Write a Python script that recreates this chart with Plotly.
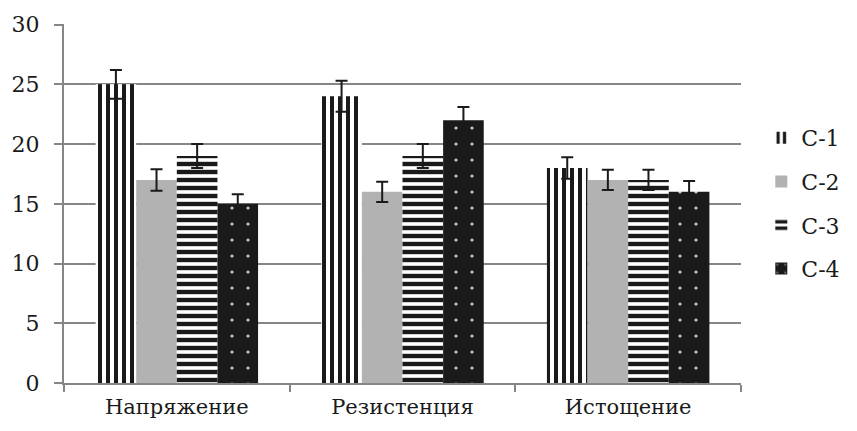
import plotly.graph_objects as go

categories = ["Напряжение", "Резистенция", "Истощение"]
series_names = ["C-1", "C-2", "C-3", "C-4"]
values = {
    "C-1": [25, 24, 18],
    "C-2": [17, 16, 17],
    "C-3": [19, 19, 17],
    "C-4": [15, 22, 16],
}
errors = {
    "C-1": [1.2, 1.3, 0.9],
    "C-2": [0.9, 0.85, 0.85],
    "C-3": [1.0, 1.0, 0.85],
    "C-4": [0.8, 1.1, 0.9],
}
y_ticks = [0, 5, 10, 15, 20, 25, 30]

styles = {
    "C-1": dict(color="white", pattern=dict(shape="|", fgcolor="#1a1a1a", bgcolor="white", size=8, solidity=0.5, fillmode="replace")),
    "C-2": dict(color="#b2b2b2"),
    "C-3": dict(color="white", pattern=dict(shape="-", fgcolor="#1a1a1a", bgcolor="white", size=8, solidity=0.55, fillmode="replace")),
    "C-4": dict(color="#1a1a1a", pattern=dict(shape=".", fgcolor="#d0d0d0", bgcolor="#1a1a1a", size=16, solidity=0.03, fillmode="replace")),
}

fig = go.Figure()
for i, name in enumerate(series_names):
    fig.add_trace(go.Bar(
        x=categories, y=values[name], name=name,
        marker=dict(line=dict(width=0), **styles[name]),
        error_y=dict(type="data", array=errors[name], color="#1a1a1a", thickness=2, width=6),
        legendgroup=name,
    ))

serif = "DejaVu Serif"
fig.update_layout(
    width=857, height=431,
    margin=dict(l=58, r=103, t=20, b=45),
    paper_bgcolor="white", plot_bgcolor="white",
    barmode="group", bargap=0.28, bargroupgap=0,
    font=dict(family=serif, size=21, color="#1a1a1a"),
    showlegend=True,
    legend=dict(x=1.03, y=0.5, xanchor="left", yanchor="middle", tracegroupgap=12,
                font=dict(family=serif, size=22, color="#1a1a1a"),
                itemwidth=30),
    xaxis=dict(showline=True, linecolor="#868686", linewidth=2, ticks="outside", tickson="boundaries",
               ticklen=7, tickcolor="#868686", tickwidth=1.5, showgrid=False,
               tickfont=dict(family=serif, size=21), ticklabelstandoff=4),
    yaxis=dict(range=[0, 30.05], tickvals=y_ticks, showline=True, linecolor="#868686", linewidth=2,
               ticks="outside", ticklen=8, tickcolor="#868686", tickwidth=1.5, gridcolor="#868686", gridwidth=1.5,
               zeroline=False, ticklabelstandoff=10, ticklabeloverflow="allow",
               tickfont=dict(family=serif, size=22)),
)
fig.write_html("out.html", config={"displayModeBar": False},
               post_script="document.body.style.margin='0';")
